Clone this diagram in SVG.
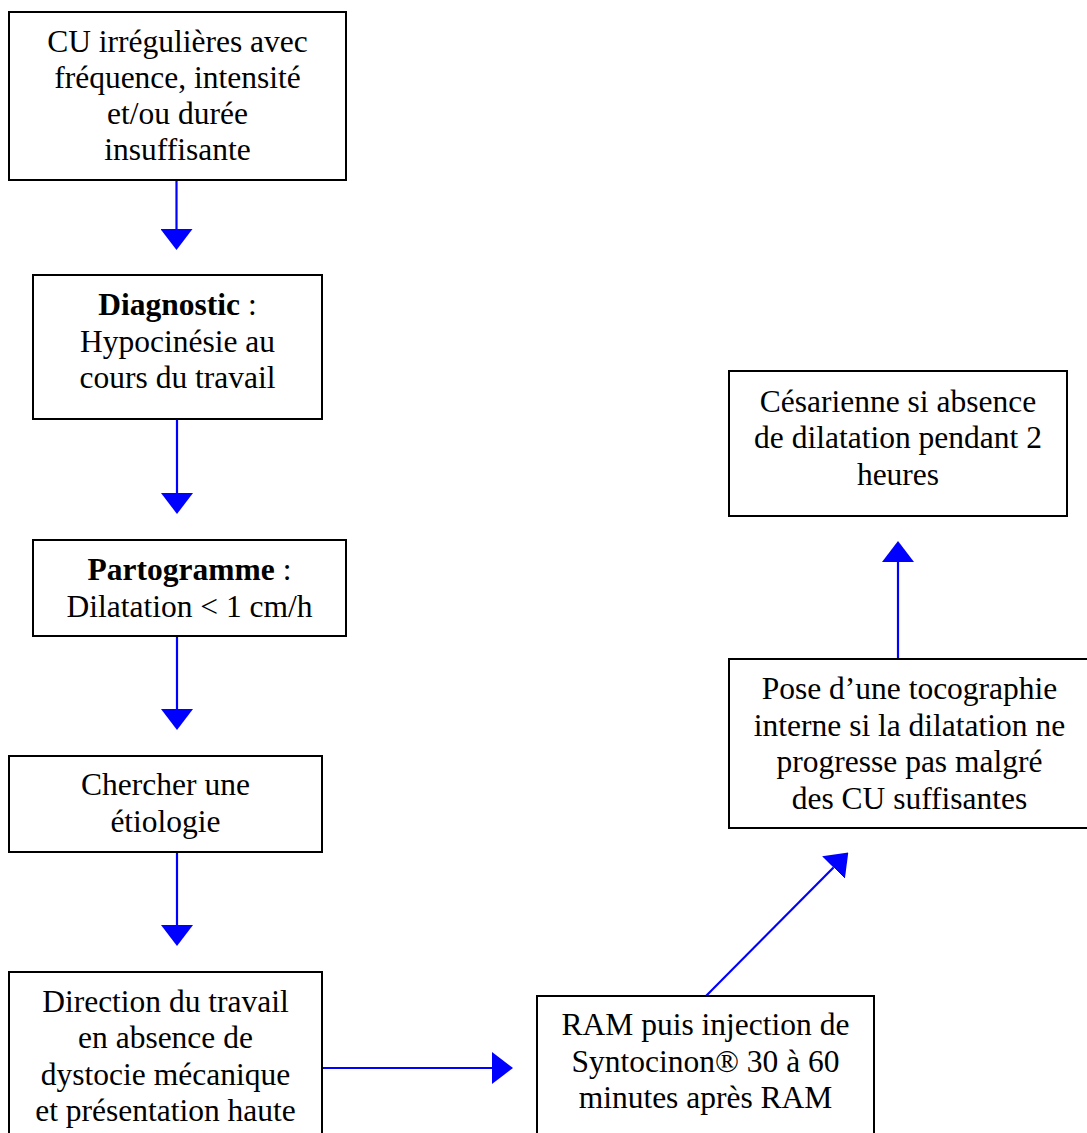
<svg xmlns="http://www.w3.org/2000/svg" width="1087" height="1133" viewBox="0 0 1087 1133">
<defs>
<style>
.box{fill:#fff;stroke:#000;stroke-width:2}
.t{font-family:"Liberation Serif","Times New Roman",serif;font-size:31.5px;fill:#000;text-anchor:middle}
.b{font-weight:bold}
.c{fill:none;stroke:#0000ff;stroke-width:2.2}
</style>
<marker id="ah" viewBox="0 0 21 32" refX="0" refY="16" markerWidth="21" markerHeight="32" markerUnits="userSpaceOnUse" orient="auto">
<path d="M0,0 L21,16 L0,32 Z" fill="#0000ff"/>
</marker>
</defs>
<rect width="1087" height="1133" fill="#fff"/>
<g id="connectors">
<path class="c" d="M176.5 180 V229" marker-end="url(#ah)"/>
<path class="c" d="M177 419 V493" marker-end="url(#ah)"/>
<path class="c" d="M177 636 V709" marker-end="url(#ah)"/>
<path class="c" d="M177 852 V925" marker-end="url(#ah)"/>
<path class="c" d="M322 1068 H492" marker-end="url(#ah)"/>
<path class="c" d="M706 996 L833.5 867.5" marker-end="url(#ah)"/>
<path class="c" d="M898 659 V562" marker-end="url(#ah)"/>
</g>
<g id="n1">
<rect class="box" x="9" y="12" width="337" height="168"/>
<text class="t" x="177.5" y="52">CU irrégulières avec</text>
<text class="t" x="177.5" y="88">fréquence, intensité</text>
<text class="t" x="177.5" y="124">et/ou durée</text>
<text class="t" x="177.5" y="160">insuffisante</text>
</g>
<g id="n2">
<rect class="box" x="33" y="275" width="289" height="144"/>
<text class="t" x="177.5" y="315"><tspan class="b">Diagnostic</tspan> :</text>
<text class="t" x="177.5" y="351.5">Hypocinésie au</text>
<text class="t" x="177.5" y="388">cours du travail</text>
</g>
<g id="n3">
<rect class="box" x="33" y="540" width="313" height="96"/>
<text class="t" x="189.5" y="580"><tspan class="b">Partogramme</tspan> :</text>
<text class="t" x="189.5" y="616.5">Dilatation &lt; 1 cm/h</text>
</g>
<g id="n4">
<rect class="box" x="9" y="756" width="313" height="96"/>
<text class="t" x="165.5" y="795">Chercher une</text>
<text class="t" x="165.5" y="831.5">étiologie</text>
</g>
<g id="n5">
<rect class="box" x="9" y="972" width="313" height="180"/>
<text class="t" x="165.5" y="1011.5">Direction du travail</text>
<text class="t" x="165.5" y="1048">en absence de</text>
<text class="t" x="165.5" y="1084.5">dystocie mécanique</text>
<text class="t" x="165.5" y="1121">et présentation haute</text>
</g>
<g id="n6">
<rect class="box" x="537" y="996" width="337" height="160"/>
<text class="t" x="705.5" y="1035">RAM puis injection de</text>
<text class="t" x="705.5" y="1071.5">Syntocinon® 30 à 60</text>
<text class="t" x="705.5" y="1108">minutes après RAM</text>
</g>
<g id="n7">
<rect class="box" x="729" y="659" width="361" height="169"/>
<text class="t" x="909.5" y="699">Pose d’une tocographie</text>
<text class="t" x="909.5" y="735.5">interne si la dilatation ne</text>
<text class="t" x="909.5" y="772">progresse pas malgré</text>
<text class="t" x="909.5" y="808.5">des CU suffisantes</text>
</g>
<g id="n8">
<rect class="box" x="729" y="371" width="338" height="145"/>
<text class="t" x="898" y="411.5">Césarienne si absence</text>
<text class="t" x="898" y="448">de dilatation pendant 2</text>
<text class="t" x="898" y="484.5">heures</text>
</g>
</svg>
